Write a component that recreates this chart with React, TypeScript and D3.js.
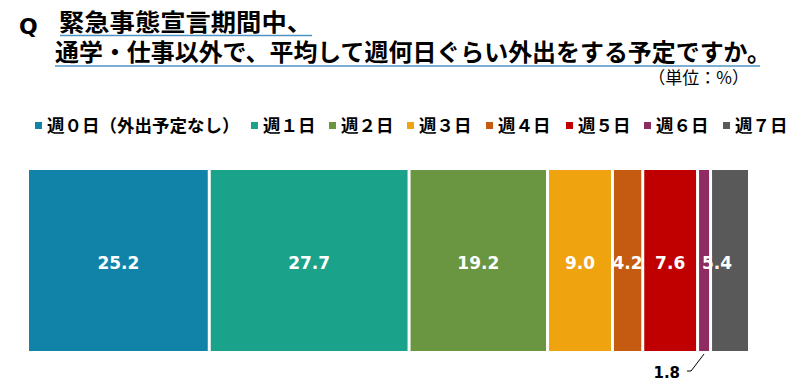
import React, { useEffect, useRef } from "react";
import * as d3 from "d3";

const categories = [
  "週０日（外出予定なし）",
  "週１日",
  "週２日",
  "週３日",
  "週４日",
  "週５日",
  "週６日",
  "週７日",
];
const values = [25.2, 27.7, 19.2, 9.0, 4.2, 7.6, 1.8, 5.4];
const colors = [
  "#1283a8",
  "#1aa38a",
  "#6a9641",
  "#eea30f",
  "#c55a11",
  "#c00000",
  "#8e2b60",
  "#595959",
];
const legendX = [35, 251, 329, 407, 486, 566, 644, 723];

const W = 800;
const H = 391;
const JP = "'Noto Sans CJK JP', sans-serif";
const NUM = "'DejaVu Sans', Verdana, sans-serif";

const App = () => {
  const ref = useRef<SVGSVGElement>(null);

  useEffect(() => {
    const svg = d3.select(ref.current);
    svg.selectAll("*").remove();

    // title
    svg
      .append("text")
      .attr("x", 19)
      .attr("y", 34)
      .attr("font-family", NUM)
      .attr("font-weight", "bold")
      .attr("font-size", 22)
      .text("Q");

    svg
      .append("text")
      .attr("x", 59)
      .attr("y", 31)
      .attr("font-family", JP)
      .attr("font-weight", "bold")
      .attr("font-size", 24)
      .attr("textLength", 253)
      .attr("lengthAdjust", "spacingAndGlyphs")
      .text("緊急事態宣言期間中、");
    svg
      .append("text")
      .attr("x", 55)
      .attr("y", 61)
      .attr("font-family", JP)
      .attr("font-weight", "bold")
      .attr("font-size", 24)
      .attr("textLength", 716)
      .attr("lengthAdjust", "spacingAndGlyphs")
      .text("通学・仕事以外で、平均して週何日ぐらい外出をする予定ですか。");

    svg
      .append("line")
      .attr("x1", 60)
      .attr("x2", 312)
      .attr("y1", 35.5)
      .attr("y2", 35.5)
      .attr("stroke", "#4f93c2")
      .attr("stroke-width", 1.5);
    svg
      .append("line")
      .attr("x1", 55)
      .attr("x2", 760)
      .attr("y1", 66)
      .attr("y2", 66)
      .attr("stroke", "#4f93c2")
      .attr("stroke-width", 1.5);

    svg
      .append("text")
      .attr("x", 749)
      .attr("y", 84)
      .attr("text-anchor", "end")
      .attr("font-family", JP)
      .attr("font-size", 17)
      .text("（単位：%）");

    // legend
    const leg = svg
      .selectAll("g.leg")
      .data(categories)
      .join("g")
      .attr("class", "leg")
      .attr("transform", (d, i) => `translate(${legendX[i]},0)`);
    leg
      .append("rect")
      .attr("x", 0)
      .attr("y", 122)
      .attr("width", 7)
      .attr("height", 7)
      .attr("fill", (d, i) => colors[i]);
    leg
      .append("text")
      .attr("x", 12)
      .attr("y", 132)
      .attr("font-family", JP)
      .attr("font-weight", "bold")
      .attr("font-size", 17.5)
      .text((d) => d);

    // bars
    const total = d3.sum(values);
    const x = d3.scaleLinear().domain([0, total]).range([29, 751]);
    const gap = 3;
    const y0 = 170;
    const y1 = 351;
    const starts = values.map((v, i) => d3.sum(values.slice(0, i)));

    svg
      .selectAll("rect.bar")
      .data(values)
      .join("rect")
      .attr("class", "bar")
      .attr("x", (d, i) => x(starts[i]))
      .attr("y", y0)
      .attr("width", (d, i) => x(starts[i] + d) - x(starts[i]) - gap)
      .attr("height", y1 - y0)
      .attr("fill", (d, i) => colors[i]);

    svg
      .selectAll("text.val")
      .data(values)
      .join("text")
      .attr("class", "val")
      .filter((d) => d >= 3)
      .attr("x", (d, i) => (x(starts[i]) + x(starts[i] + d) - gap) / 2)
      .attr("y", 269)
      .attr("text-anchor", "middle")
      .attr("fill", "#fff")
      .attr("font-family", NUM)
      .attr("font-weight", "bold")
      .attr("font-size", 17)
      .text((d) => d.toFixed(1));

    // small segment label with leader
    const si = 6;
    const cx = (x(starts[si]) + x(starts[si] + values[si]) - gap) / 2;
    svg
      .append("path")
      .attr("d", `M${cx - 17},371 L${cx - 13},371 L${cx},354`)
      .attr("fill", "none")
      .attr("stroke", "#000")
      .attr("stroke-width", 1);
    svg
      .append("text")
      .attr("x", cx - 24)
      .attr("y", 378)
      .attr("text-anchor", "end")
      .attr("font-family", NUM)
      .attr("font-weight", "bold")
      .attr("font-size", 15)
      .text(values[si].toFixed(1));
  }, []);

  return (
    <svg
      ref={ref}
      width={W}
      height={H}
      style={{ position: "fixed", left: 0, top: 0, background: "#fff" }}
    />
  );
};

export default App;
